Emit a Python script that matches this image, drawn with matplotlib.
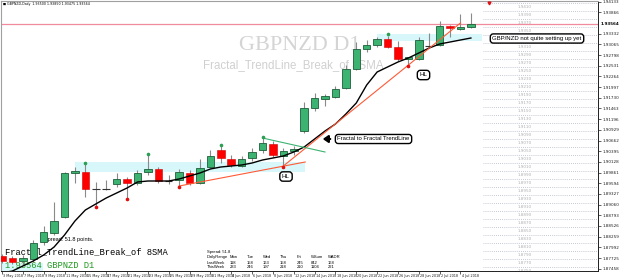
import matplotlib
matplotlib.use('Agg')
import matplotlib.pyplot as plt
from matplotlib.patches import Rectangle
import matplotlib.transforms as mtrans

# ---------------- data ----------------
opens  = [1.87775, 1.87725, 1.87650, 1.87700, 1.88125, 1.88350, 1.88750, 1.89850, 1.89875, 1.89450,
          1.89450, 1.89575, 1.89700, 1.89600, 1.89875, 1.89950, 1.89650, 1.89675, 1.89850, 1.89600,
          1.90000, 1.90425, 1.90200, 1.90025, 1.90225, 1.90425, 1.90575, 1.90275, 1.90400, 1.90900,
          1.91475, 1.91700, 1.91750, 1.91975, 1.92450, 1.92950, 1.93050, 1.93200, 1.93000, 1.92700,
          1.92700, 1.93025, 1.93050, 1.93525, 1.93450, 1.93500]
highs  = [1.87825, 1.87775, 1.87800, 1.88175, 1.88525, 1.89125, 1.89875, 1.90000, 1.90075, 1.89625,
          1.89675, 1.89850, 1.89750, 1.89925, 1.90300, 1.90000, 1.89800, 1.89950, 1.89925, 1.90200,
          1.90425, 1.90525, 1.90300, 1.90275, 1.90475, 1.90725, 1.90650, 1.90475, 1.90525, 1.91625,
          1.91850, 1.91825, 1.92025, 1.92550, 1.93125, 1.93175, 1.93250, 1.93275, 1.93150, 1.92750,
          1.93250, 1.93350, 1.93650, 1.93550, 1.93825, 1.93850]
lows   = [1.87600, 1.87575, 1.87550, 1.87625, 1.88050, 1.88300, 1.88725, 1.89600, 1.89250, 1.89025,
          1.89425, 1.89500, 1.89225, 1.89550, 1.89800, 1.89600, 1.89575, 1.89525, 1.89550, 1.89575,
          1.89975, 1.90100, 1.90000, 1.90000, 1.90150, 1.90350, 1.90250, 1.90025, 1.90300, 1.90850,
          1.91400, 1.91525, 1.91725, 1.91950, 1.92425, 1.92875, 1.93000, 1.92975, 1.92650, 1.92550,
          1.92675, 1.92975, 1.93025, 1.93250, 1.93425, 1.93475]
closes = [1.87650, 1.87625, 1.87725, 1.88100, 1.88375, 1.88650, 1.89850, 1.89900, 1.89450, 1.89450,
          1.89450, 1.89700, 1.89600, 1.89850, 1.89950, 1.89650, 1.89650, 1.89875, 1.89600, 1.89975,
          1.90275, 1.90225, 1.90050, 1.90200, 1.90375, 1.90600, 1.90300, 1.90400, 1.90450, 1.91475,
          1.91725, 1.91775, 1.91950, 1.92450, 1.92950, 1.93050, 1.93200, 1.93000, 1.92700, 1.92750,
          1.93175, 1.93025, 1.93525, 1.93475, 1.93500, 1.93564]
sma8   = [1.87350, 1.87400, 1.87525, 1.87650, 1.87800, 1.88000, 1.88300, 1.88650, 1.88925, 1.89075,
          1.89225, 1.89350, 1.89475, 1.89625, 1.89650, 1.89650, 1.89650, 1.89700, 1.89775, 1.89850,
          1.89950, 1.90000, 1.90025, 1.90050, 1.90100, 1.90175, 1.90225, 1.90275, 1.90375, 1.90500,
          1.90700, 1.90900, 1.91075, 1.91325, 1.91600, 1.92050, 1.92375, 1.92500, 1.92625, 1.92725,
          1.92850, 1.92975, 1.93075, 1.93125, 1.93175, 1.93225]
bid = 1.93564

fractal_up_idx   = [8, 14, 21, 25, 37]
fractal_up_price = [1.90100, 1.90325, 1.90550, 1.90750, 1.93325]
fractal_dn_idx   = [9, 12, 17, 27, 39]
fractal_dn_price = [1.89000, 1.89200, 1.89500, 1.90000, 1.92525]

orange1_x, orange1_y = [17, 29.1], [1.89525, 1.90125]
orange2_x, orange2_y = [27, 44.0], [1.90025, 1.93600]
green_tl_x, green_tl_y = [25, 31], [1.90725, 1.90375]

date_idx = [0, 2, 4, 6, 8, 10, 12, 14, 16, 18, 20, 22, 24, 26, 28, 30, 32, 34, 36, 38, 40, 42, 44]
date_labels = ['3 May 2018', '7 May 2018', '9 May 2018', '11 May 2018', '15 May 2018', '17 May 2018',
               '21 May 2018', '23 May 2018', '25 May 2018', '29 May 2018', '31 May 2018', '4 Jun 2018',
               '6 Jun 2018', '8 Jun 2018', '12 Jun 2018', '14 Jun 2018', '18 Jun 2018', '20 Jun 2018',
               '22 Jun 2018', '26 Jun 2018', '28 Jun 2018', '2 Jul 2018', '4 Jul 2018']

price_ticks = [1.94133, 1.93866, 1.93332, 1.93065, 1.92798, 1.92531, 1.92264, 1.91997,
               1.91730, 1.91463, 1.91196, 1.90929, 1.90662, 1.90395, 1.90128, 1.89861, 1.89594,
               1.89327, 1.89060, 1.88793, 1.88526, 1.88259, 1.87992, 1.87725, 1.87458]
price_tick_labels = ['%.5f' % p for p in price_ticks]

level_prices = [1.9410, 1.9390, 1.9370, 1.9350, 1.9330, 1.9310, 1.9290, 1.9270, 1.9250, 1.9230,
                1.9210, 1.9190, 1.9170, 1.9150, 1.9130, 1.9110, 1.9090, 1.9070, 1.9050, 1.9030,
                1.9010, 1.8990, 1.8970, 1.8950, 1.8930, 1.8910, 1.8890, 1.8870, 1.8850, 1.8830,
                1.8810, 1.8790, 1.8770, 1.8750]
level_labels = ['%.4f' % p for p in level_prices]

table_cols = ['DailyRange', 'Mon', 'Tue', 'Wed', 'Thu', 'Fri', 'WSum', 'WADR']
last_week = ['LastWeek', '118', '158', '163', '158', '245', '842', '168']
this_week = ['ThisWeek', '233', '246', '197', '218', '210', '1104', '221']

# ---------------- layout ----------------
W, H = 625, 279
L, R, T, B = 1, 598, 1, 271
STEP = 10.42
fig = plt.figure(figsize=(W / 100, H / 100), dpi=100)
fig.patch.set_facecolor('white')
ax = fig.add_axes([L / W, (H - B) / H, (R - L) / W, (B - T) / H])


def fy(y):  # pixel row -> price (layout helper)
    return 1.94175 - y * 0.00025


def ix(x):  # pixel column -> bar index (layout helper)
    return (x - 2) / STEP


def P(x, y):
    return (x / W, 1 - y / H)


ax.set_xlim(ix(L), ix(R))
ax.set_ylim(fy(B), fy(T))

# cyan zones
for (x0, x1, y0, y1) in [(-0.5, 3.95, 263, 272), (ix(75), ix(305), 162, 172), (ix(377), ix(482), 34, 41)]:
    ax.add_patch(Rectangle((x0, fy(y1)), x1 - x0, fy(y0) - fy(y1), facecolor='#d8f7fb',
                           edgecolor='none', zorder=0.5))

# dotted levels on the right
ax.hlines(level_prices, ix(483), ix(R), colors='#b4b8c8', linestyles=(0, (1, 1.5)), lw=0.6, zorder=1)
for p, s in zip(level_prices, level_labels):
    if fy(45) < p - 0.0010 < fy(31):
        continue  # hidden behind the note box
    ax.text(ix(525), p - 0.0010, s, fontsize=3, color='#b0b0b0', ha='center', va='center', zorder=1)

# bid line
ax.axhline(bid, color='#f08a9c', lw=0.9, zorder=1.5)

# candles
n = len(opens)
bw = 0.72
for i in range(n):
    o, h, l, c = opens[i], highs[i], lows[i], closes[i]
    ax.vlines(i, l, h, color='#8a8a8a', lw=0.8, zorder=2)
    if c > o:
        ax.add_patch(Rectangle((i - bw / 2, o), bw, c - o, facecolor='#3cb371', edgecolor='#1d5e3a',
                               lw=0.6, zorder=3))
    elif c < o:
        ax.add_patch(Rectangle((i - bw / 2, c), bw, o - c, facecolor='#ff0000', edgecolor='#d00000',
                               lw=0.4, zorder=3))
    else:
        ax.hlines(o, i - bw / 2, i + bw / 2, color='#333333', lw=0.8, zorder=3)

# SMA and trend lines
ax.plot(range(n), sma8, color='black', lw=1.0, zorder=4)
ax.plot(orange1_x, orange1_y, color='#ff5a36', lw=0.8, zorder=4)
ax.plot(orange2_x, orange2_y, color='#ff5a36', lw=0.8, zorder=4)
ax.plot(green_tl_x, green_tl_y, color='#3cb371', lw=0.8, zorder=4)

# fractals
ax.plot(fractal_up_idx, fractal_up_price, 'o', color='#2e9e55', ms=1.6, zorder=5)
ax.plot(fractal_dn_idx, fractal_dn_price, 'o', color='#e01010', ms=1.6, zorder=5)
ax.plot([ix(489)], [fy(2.5)], marker='v', color='#e01010', ms=2, zorder=5, clip_on=False)

# axes styling
for s in ['left', 'top']:
    ax.spines[s].set_color('#a0a0a0')
    ax.spines[s].set_linewidth(0.8)
for s in ['right', 'bottom']:
    ax.spines[s].set_color('#202020')
    ax.spines[s].set_linewidth(0.7)
ax.yaxis.tick_right()
ax.set_yticks(price_ticks)
ax.set_yticklabels(price_tick_labels)
ax.tick_params(axis='y', labelsize=3, length=2, width=0.5, pad=1, colors='#202020')
ax.set_xticks(date_idx)
ax.set_xticklabels(date_labels)
ax.tick_params(axis='x', labelsize=2.4, length=2, width=0.5, pad=0.3, colors='#202020')
offset = mtrans.ScaledTranslation(1.2 / 100, 0, fig.dpi_scale_trans)
for lbl in ax.get_xticklabels():
    lbl.set_ha('left')
    lbl.set_transform(lbl.get_transform() + offset)

# current price tag
tr = mtrans.blended_transform_factory(ax.transAxes, ax.transData)
ax.text(1.004, bid, '%.5f' % bid, transform=tr, fontsize=3, fontweight='bold', color='black',
        va='center', ha='left', clip_on=False, zorder=10,
        bbox=dict(boxstyle='square,pad=0.2', fc='white', ec='none'))

# texts behind candles
ft = fig.transFigure
ax.text(*P(300, 46), 'GBPNZD D1', transform=ft, fontsize=16, family='Liberation Serif',
        color='#d4d4d4', ha='center', va='center', zorder=1)
ax.text(*P(293, 65), 'Fractal_TrendLine_Break_of 8SMA', transform=ft, fontsize=8.3,
        family='Liberation Sans', color='#d0d0d0', ha='center', va='center', zorder=1)
ax.text(*P(5, 252), 'Fractal_TrendLine_Break_of 8SMA', transform=ft, fontsize=6.3,
        family='Liberation Mono', color='black', ha='left', va='center', zorder=1)
ax.text(*P(5, 266), '%.5f GBPNZD D1' % bid, transform=ft, fontsize=6.3,
        family='Liberation Mono', color='#229922', ha='left', va='center', zorder=1)
ax.text(*P(44, 240), 'Spread: 51.8 points.', transform=ft, fontsize=4, family='Liberation Sans',
        color='black', ha='left', va='center', zorder=1)

# small table
ax.text(*P(207, 252), 'Spread: 51.8', transform=ft, fontsize=3, family='Liberation Sans',
        ha='left', va='center', zorder=1)
col_x = [207, 230, 247, 263, 280, 297, 311, 328]
for row_y, row in zip([257, 262.5, 267], [table_cols, last_week, this_week]):
    for cx, s in zip(col_x, row):
        ax.text(*P(cx, row_y), s, transform=ft, fontsize=3, family='Liberation Sans',
                ha='left', va='center', zorder=1)

# title
fig.text(*P(3, 4), '\u25a0 GBPNZD,Daily  1.93500 1.93850 1.93475 1.93564', fontsize=2.3,
         family='DejaVu Sans', ha='left', va='center')

# annotation boxes
box = dict(boxstyle='round,pad=0.35,rounding_size=0.5', fc='white', ec='black', lw=1.0)
fig.text(*P(373.5, 139), 'Fractal to Fractal TrendLine', fontsize=4.2, family='Liberation Sans',
         ha='center', va='center', bbox=box, zorder=10)
fig.text(*P(286, 176.5), 'HL', fontsize=4.5, family='Liberation Sans', ha='center', va='center',
         bbox=box, zorder=10)
fig.text(*P(423.5, 75), 'HL', fontsize=4.5, family='Liberation Sans', ha='center', va='center',
         bbox=box, zorder=10)
fig.text(*P(537, 38.5), 'GBP/NZD not quite setting up yet', fontsize=4.3, family='Liberation Sans',
         ha='center', va='center', bbox=box, zorder=10)
ax.annotate('', xy=P(320, 139), xytext=P(333, 139), xycoords='figure fraction',
            textcoords='figure fraction',
            arrowprops=dict(arrowstyle='-|>,head_length=0.5,head_width=0.35', color='black',
                            lw=1.6, mutation_scale=6), zorder=10)

fig.savefig('out.png', dpi=100, facecolor='white')
